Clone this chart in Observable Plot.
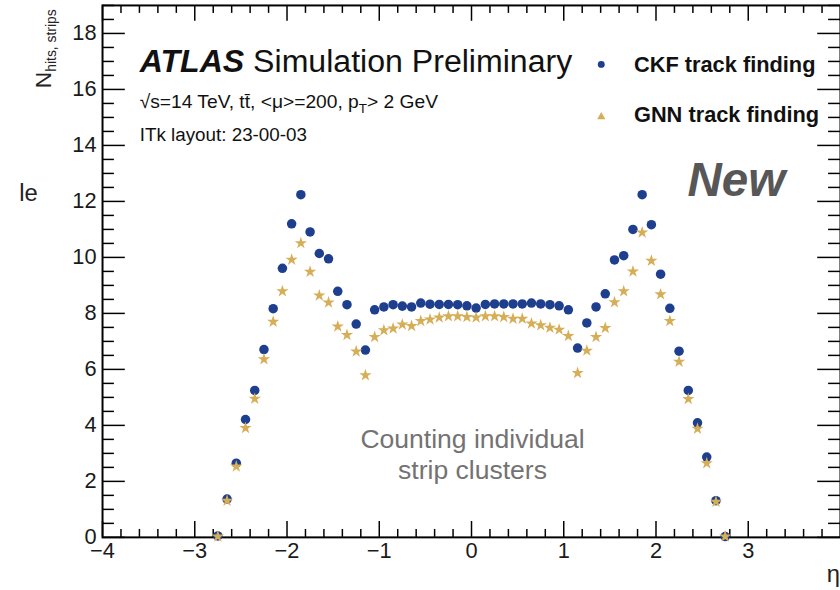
<!DOCTYPE html>
<html><head><meta charset="utf-8">
<script src="https://cdn.jsdelivr.net/npm/d3@7"></script>
<script src="https://cdn.jsdelivr.net/npm/@observablehq/plot@0.6"></script>
<style>
html,body{margin:0;padding:0;background:#fff;overflow:hidden;width:840px;height:590px;}
#chart{width:840px;height:590px;overflow:hidden;}
svg{display:block;}
</style></head><body><div id="chart"></div>
<script>
// ---- data ----
const eta = [-2.75,-2.65,-2.55,-2.45,-2.35,-2.25,-2.15,-2.05,-1.95,-1.85,-1.75,-1.65,-1.55,-1.45,-1.35,-1.25,-1.15,-1.05,
  -0.95,-0.85,-0.75,-0.65,-0.55,-0.45,-0.35,-0.25,-0.15,-0.05,0.05,0.15,0.25,0.35,0.45,0.55,0.65,0.75,0.85,0.95,
  1.05,1.15,1.25,1.35,1.45,1.55,1.65,1.75,1.85,1.95,2.05,2.15,2.25,2.35,2.45,2.55,2.65,2.75];
const ckf = [0.05,1.37,2.65,4.21,5.25,6.71,8.17,9.61,11.2,12.24,10.91,10.14,9.95,8.79,8.31,7.62,6.69,8.13,
  8.23,8.31,8.26,8.23,8.37,8.33,8.32,8.32,8.31,8.27,8.19,8.32,8.34,8.34,8.34,8.34,8.37,8.34,8.31,8.27,
  8.13,6.76,7.66,8.23,8.70,9.91,10.06,11.0,12.24,11.17,9.40,8.18,6.65,5.25,4.09,2.87,1.31,0.03];
const gnn = [0.03,1.31,2.53,3.91,4.95,6.36,7.70,8.79,9.92,10.51,9.49,8.64,8.39,7.53,7.23,6.64,5.79,7.16,
  7.40,7.46,7.60,7.55,7.73,7.78,7.85,7.90,7.90,7.87,7.85,7.90,7.90,7.87,7.81,7.81,7.64,7.58,7.49,7.42,
  7.19,5.87,6.67,7.16,7.48,8.40,8.79,9.50,10.89,9.88,8.68,7.73,6.27,4.94,3.88,2.65,1.27,0.03];
const seriesNames = ["CKF track finding", "GNN track finding"];
const xTickLabels = [-4,-3,-2,-1,0,1,2,3];
const xMajor = [-4,-3,-2,-1,0,1,2,3,4];
const yMajor = [0,2,4,6,8,10,12,14,16,18];
const xMinor = d3.range(-40, 41, 2).map(d => d/10).filter(d => !xMajor.includes(d));
const yMinor = d3.range(0, 39, 1).map(d => d/2).filter(d => !yMajor.includes(d));

// ---- layout ----
const W = 848, H = 590, mL = 103, mT = 5, mB = 48, mR = 0;
const xDom = [-4, 4], yDom = [0, 19];
const ppx = (W - mL - mR) / (xDom[1] - xDom[0]);
const ppy = (H - mT - mB) / (yDom[1] - yDom[0]);
const font = "'Liberation Sans', Arial, Helvetica, sans-serif";
const blue = "#1d3f8e", gold = "#d6ae57";

const rows1 = eta.map((e, i) => ({eta: e, v: ckf[i]}));
const rows2 = eta.map((e, i) => ({eta: e, v: gnn[i]}));

const dx = (px) => px / ppx, dy = (px) => px / ppy;
const tickStyle = {stroke: "black", strokeWidth: 1.5};

const plot = Plot.plot({
  width: W, height: H,
  marginLeft: mL, marginRight: mR, marginTop: mT, marginBottom: mB,
  style: {fontFamily: font, background: "white", overflow: "visible"},
  x: {domain: xDom},
  y: {domain: yDom},
  marks: [
    // ticks inward (ROOT style)
    Plot.ruleX(xMajor, {x: d => d, y1: 0, y2: dy(16), ...tickStyle}),
    Plot.ruleX(xMinor, {x: d => d, y1: 0, y2: dy(8), ...tickStyle}),
    Plot.ruleX(xMajor, {x: d => d, y1: 19 - dy(16), y2: 19, ...tickStyle}),
    Plot.ruleX(xMinor, {x: d => d, y1: 19 - dy(8), y2: 19, ...tickStyle}),
    Plot.ruleY(yMajor, {y: d => d, x1: -4, x2: -4 + dx(23), ...tickStyle}),
    Plot.ruleY(yMinor, {y: d => d, x1: -4, x2: -4 + dx(12), ...tickStyle}),
    Plot.ruleY(yMajor, {y: d => d, x1: 4 - dx(23), x2: 4, ...tickStyle}),
    Plot.ruleY(yMinor, {y: d => d, x1: 4 - dx(12), x2: 4, ...tickStyle}),
    Plot.axisX(xTickLabels, {anchor: "bottom", tickSize: 0, tickPadding: 5, fontSize: 22, label: null, fill: "#1a1a1a"}),
    Plot.axisY(yMajor, {anchor: "left", tickSize: 0, tickPadding: 6, fontSize: 22, label: null, fill: "#1a1a1a"}),
    Plot.frame({stroke: "black", strokeWidth: 2}),
    Plot.dot(rows1, {x: "eta", y: "v", r: 4.8, fill: blue, stroke: "none", symbol: "circle"}),
    Plot.dot(rows2, {x: "eta", y: "v", r: 3.9, fill: gold, stroke: "none", symbol: "star"})
  ]
});
document.getElementById("chart").appendChild(plot);

// ---- annotations ----
const svg = d3.select(plot);
const g = svg.append("g").attr("font-family", font).attr("text-anchor", "start");

const t1 = g.append("text").attr("x", 141).attr("y", 73).attr("font-size", 32.4).attr("fill", "#111");
t1.append("tspan").attr("font-weight", "bold").attr("font-style", "italic").text("ATLAS");
t1.append("tspan").text(" Simulation Preliminary");

const t2 = g.append("text").attr("x", 141).attr("y", 109).attr("font-size", 19.4).attr("fill", "#111");
t2.append("tspan").text("√s=14 TeV, tt\u0304, <μ>=200, p");
t2.append("tspan").attr("font-size", 13.5).attr("dy", 5).text("T");
t2.append("tspan").attr("dy", -5).text("> 2 GeV");

g.append("text").attr("x", 141).attr("y", 142).attr("font-size", 19).attr("fill", "#111")
  .text("ITk layout: 23-00-03");

// y-axis title (rotated)
const yt = g.append("text").attr("transform", "translate(51,89) rotate(-90)")
  .attr("font-size", 23).attr("fill", "#222");
yt.append("tspan").text("N");
yt.append("tspan").attr("font-size", 14).attr("dy", 6).text("hits, strips");

// x-axis title (cut off at right edge)
g.append("text").attr("x", 848).attr("y", 588).attr("text-anchor", "end")
  .attr("font-size", 24).attr("fill", "#222").text("η");

// stray fragment at left edge
g.append("text").attr("x", 38).attr("y", 203).attr("text-anchor", "end")
  .attr("font-size", 24).attr("fill", "#222").text("le");

// legend
g.append("path").attr("d", d3.symbol(d3.symbolCircle, Math.PI * 3.5 * 3.5)())
  .attr("transform", "translate(607,65)").attr("fill", blue);
g.append("path").attr("d", d3.symbol(d3.symbolTriangle, 30)())
  .attr("transform", "translate(607,118)").attr("fill", gold);
g.append("text").attr("x", 640).attr("y", 73).attr("font-size", 22).attr("font-weight", "bold")
  .attr("fill", "#111").text(seriesNames[0]);
g.append("text").attr("x", 640).attr("y", 123).attr("font-size", 22).attr("font-weight", "bold")
  .attr("fill", "#111").text(seriesNames[1]);

// "New"
g.append("text").attr("x", 694).attr("y", 198).attr("font-size", 48).attr("font-weight", "bold")
  .attr("font-style", "italic").attr("fill", "#575757").text("New");

// note
g.append("text").attr("x", 477).attr("y", 452).attr("text-anchor", "middle").attr("font-size", 26.8)
  .attr("fill", "#737373").text("Counting individual");
g.append("text").attr("x", 477).attr("y", 484).attr("text-anchor", "middle").attr("font-size", 26.8)
  .attr("fill", "#737373").text("strip clusters");
</script>
</body></html>
